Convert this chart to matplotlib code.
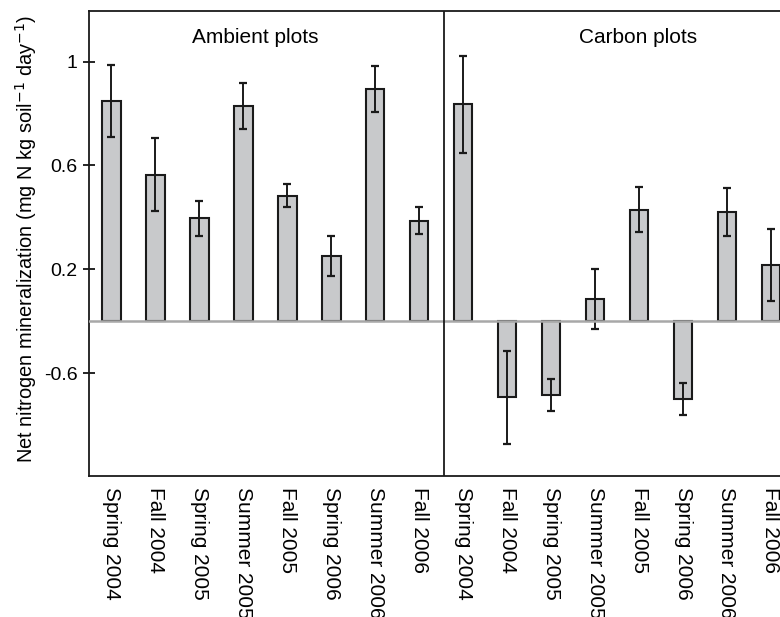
import numpy as np
import matplotlib
matplotlib.use("Agg")
import matplotlib.pyplot as plt

plt.rcParams['font.family'] = ['Liberation Sans', 'DejaVu Sans']

# Seasons sampled (same order for both plot types)
seasons = ['Spring 2004', 'Fall 2004', 'Spring 2005', 'Summer 2005',
           'Fall 2005', 'Spring 2006', 'Summer 2006', 'Fall 2006']

# Net N mineralization
ambient_mean = [0.848, 0.565, 0.397, 0.828, 0.484, 0.251, 0.896, 0.388]
ambient_err = [0.140, 0.142, 0.067, 0.088, 0.045, 0.078, 0.089, 0.053]
carbon_mean = [0.836, -0.293, -0.284, 0.086, 0.430, -0.299, 0.420, 0.216]
carbon_err = [0.187, 0.180, 0.063, 0.117, 0.088, 0.061, 0.093, 0.138]

# y ticks as printed in the original (the lowest label reads -0.6)
ytick_vals = [1, 0.6, 0.2, -0.2]
ytick_labels = ['1', '0.6', '0.2', '-0.6']

means = ambient_mean + carbon_mean
errs = ambient_err + carbon_err
labels = seasons + seasons
x = np.arange(len(means))

fig = plt.figure(figsize=(7.8, 6.17), dpi=100)
ax = fig.add_axes([0.1141, 0.2285, 0.9025, 0.7537])

ax.bar(x, means, width=0.42, color='#c8c9cb', edgecolor='#1a1a1a',
       linewidth=1.5, zorder=2)
ax.errorbar(x, means, yerr=errs, fmt='none', ecolor='#1a1a1a',
            elinewidth=1.4, capsize=3.2, capthick=1.6, zorder=3)
ax.axhline(0, color='#a8a8a8', linewidth=1.8, zorder=4)
ax.axvline(7.57, color='#1a1a1a', linewidth=1.3, zorder=5)

ax.set_xlim(-0.51, 15.5)
ax.set_ylim(-0.596, 1.195)

ax.set_yticks(ytick_vals)
ax.set_yticklabels(ytick_labels, fontsize=14)
ax.tick_params(axis='y', direction='inout', length=8.5, width=1.2, pad=4)
ax.set_xticks(x)
ax.set_xticklabels(labels, rotation=-90, fontsize=15, va='top', ha='center')
ax.tick_params(axis='x', length=0, pad=8)

for s in ax.spines.values():
    s.set_linewidth(1.3)
    s.set_color('#1a1a1a')

ax.text(3.27, 1.091, 'Ambient plots', ha='center', va='center', fontsize=15)
ax.text(11.97, 1.091, 'Carbon plots', ha='center', va='center', fontsize=15)

ax.set_ylabel('Net nitrogen mineralization (mg N kg soil$^{-1}$ day$^{-1}$)',
              fontsize=14.4)
ax.yaxis.set_label_coords(-0.071, 0.51)

fig.savefig('out.png', dpi=100)
